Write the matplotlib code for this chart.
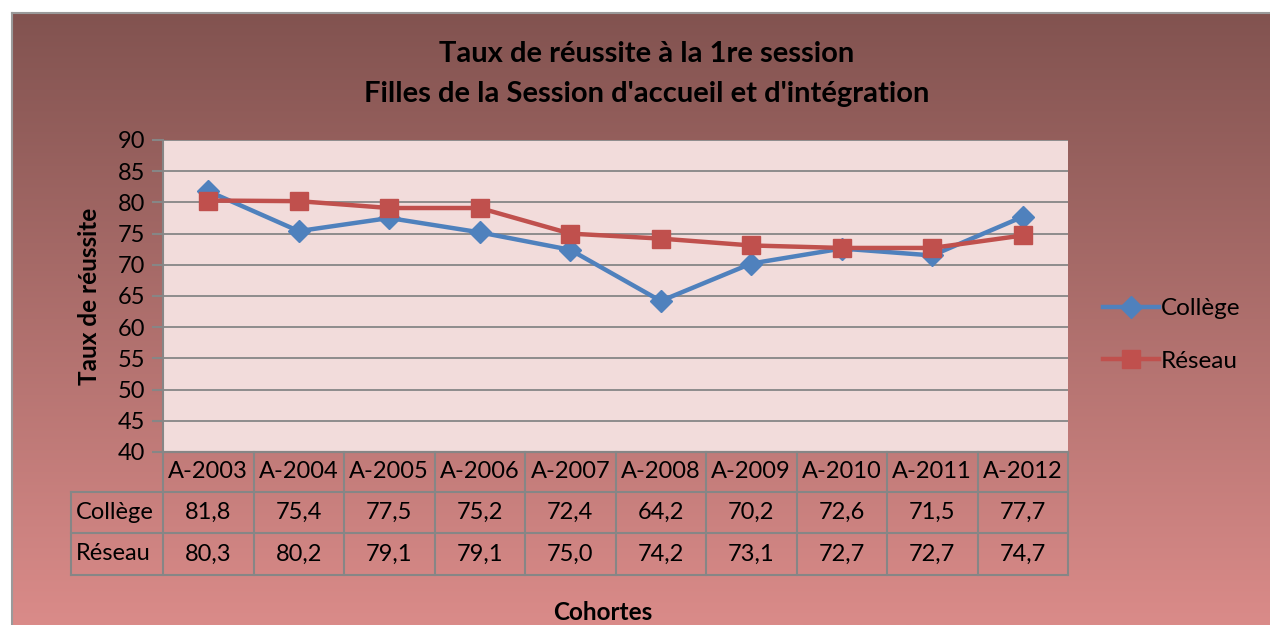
import matplotlib
matplotlib.use("Agg")
import matplotlib.pyplot as plt
import numpy as np
from matplotlib.transforms import blended_transform_factory

categories = ["A-2003", "A-2004", "A-2005", "A-2006", "A-2007", "A-2008", "A-2009", "A-2010", "A-2011", "A-2012"]
college = [81.8, 75.4, 77.5, 75.2, 72.4, 64.2, 70.2, 72.6, 71.5, 77.7]
reseau = [80.3, 80.2, 79.1, 79.1, 75.0, 74.2, 73.1, 72.7, 72.7, 74.7]
series_names = ["Collège", "Réseau"]
yticks = [40, 45, 50, 55, 60, 65, 70, 75, 80, 85, 90]

plt.rcParams['font.family'] = ['Lato', 'DejaVu Sans']

W, H = 1270, 625
fig = plt.figure(figsize=(W/100, H/100), dpi=100)
fig.patch.set_facecolor("white")

def fx(px): return px / W
def fy(py): return 1 - py / H

# background gradient
bg = fig.add_axes([fx(12), 0, 1 - fx(12), fy(13)])
top = np.array([130, 83, 80]) / 255
bot = np.array([218, 139, 137]) / 255
t = np.linspace(0, 1, 256)[:, None]
grad = top[None, :] * (1 - t) + bot[None, :] * t
bg.imshow(grad[:, None, :], aspect="auto", extent=[0, 1, 0, 1])
bg.set_xlim(0, 1); bg.set_ylim(0, 1)
bg.set_xticks([]); bg.set_yticks([])
for s in bg.spines.values():
    s.set_color("#9a9a9a"); s.set_linewidth(1.5)
bg.spines["right"].set_visible(False)
bg.spines["bottom"].set_visible(False)
bg.set_zorder(0)

ax = fig.add_axes([fx(163), fy(452), fx(1068) - fx(163), fy(140) - fy(452)])
ax.set_zorder(2)
ax.set_facecolor("#F2DCDB")
x = np.arange(len(categories))
ax.set_xlim(-0.5, len(categories) - 0.5)
ax.set_ylim(40, 90)
ax.set_yticks(yticks)
ax.set_yticklabels([str(v) for v in yticks], fontsize=17)
ax.tick_params(axis="y", length=8, color="#868686", width=1.5, pad=5)
ax.set_xticks([])
ax.grid(axis="y", color="#868686", linewidth=1.3)
ax.set_axisbelow(True)
for name, s in ax.spines.items():
    s.set_color("#868686"); s.set_linewidth(1.5)
ax.spines["right"].set_visible(False)
ax.spines["top"].set_visible(False)

l1, = ax.plot(x, college, color="#4F81BD", lw=3.2, marker="D", ms=11, label=series_names[0], clip_on=False, zorder=3)
l2, = ax.plot(x, reseau, color="#C0504D", lw=3.2, marker="s", ms=12.5, label=series_names[1], clip_on=False, zorder=4)

# data table
tr = blended_transform_factory(ax.transData, ax.transAxes)
ph = 452 - 140
r1 = -40 / ph
r2 = -81 / ph
r3 = -123 / ph
colw = (163 - 71) / ((1068 - 163) / len(categories))
xl = -0.5 - colw
gc = "#868686"
lw = 1.5
for i in range(len(categories) + 1):
    xx = i - 0.5
    ax.plot([xx, xx], [0, r3], transform=tr, color=gc, lw=lw, clip_on=False)
ax.plot([xl, xl], [r1, r3], transform=tr, color=gc, lw=lw, clip_on=False)
ax.plot([-0.5, len(categories) - 0.5], [0, 0], transform=tr, color=gc, lw=lw, clip_on=False)
for yy in (r1, r2, r3):
    ax.plot([xl, len(categories) - 0.5], [yy, yy], transform=tr, color=gc, lw=lw, clip_on=False)

tfs = 17
def fmt(v): return f"{v:.1f}".replace(".", ",")
for i, c in enumerate(categories):
    ax.text(i, r1 / 2, c, transform=tr, ha="center", va="center", fontsize=tfs)
    ax.text(i, (r1 + r2) / 2, fmt(college[i]), transform=tr, ha="center", va="center", fontsize=tfs)
    ax.text(i, (r2 + r3) / 2, fmt(reseau[i]), transform=tr, ha="center", va="center", fontsize=tfs)
ax.text(xl + 0.05, (r1 + r2) / 2, series_names[0], transform=tr, ha="left", va="center", fontsize=tfs)
ax.text(xl + 0.05, (r2 + r3) / 2, series_names[1], transform=tr, ha="left", va="center", fontsize=tfs)

# titles
fig.text(fx(647), fy(54), "Taux de réussite à la 1re session", ha="center", va="center", fontsize=21, fontweight="bold")
fig.text(fx(647), fy(94), "Filles de la Session d'accueil et d'intégration", ha="center", va="center", fontsize=21, fontweight="bold")
fig.text(fx(89), fy(296), "Taux de réussite", rotation=90, ha="center", va="center", fontsize=17.5, fontweight="bold")
fig.text(fx(603), fy(612), "Cohortes", ha="center", va="center", fontsize=17.5, fontweight="bold")

# legend
leg = fig.legend(handles=[l1, l2], labels=series_names, loc="center left",
                 bbox_to_anchor=(fx(1081), fy(335)), frameon=False, fontsize=17.5,
                 handlelength=2.3, labelspacing=1.3, handletextpad=0.1)

fig.savefig("out.png", dpi=100)
